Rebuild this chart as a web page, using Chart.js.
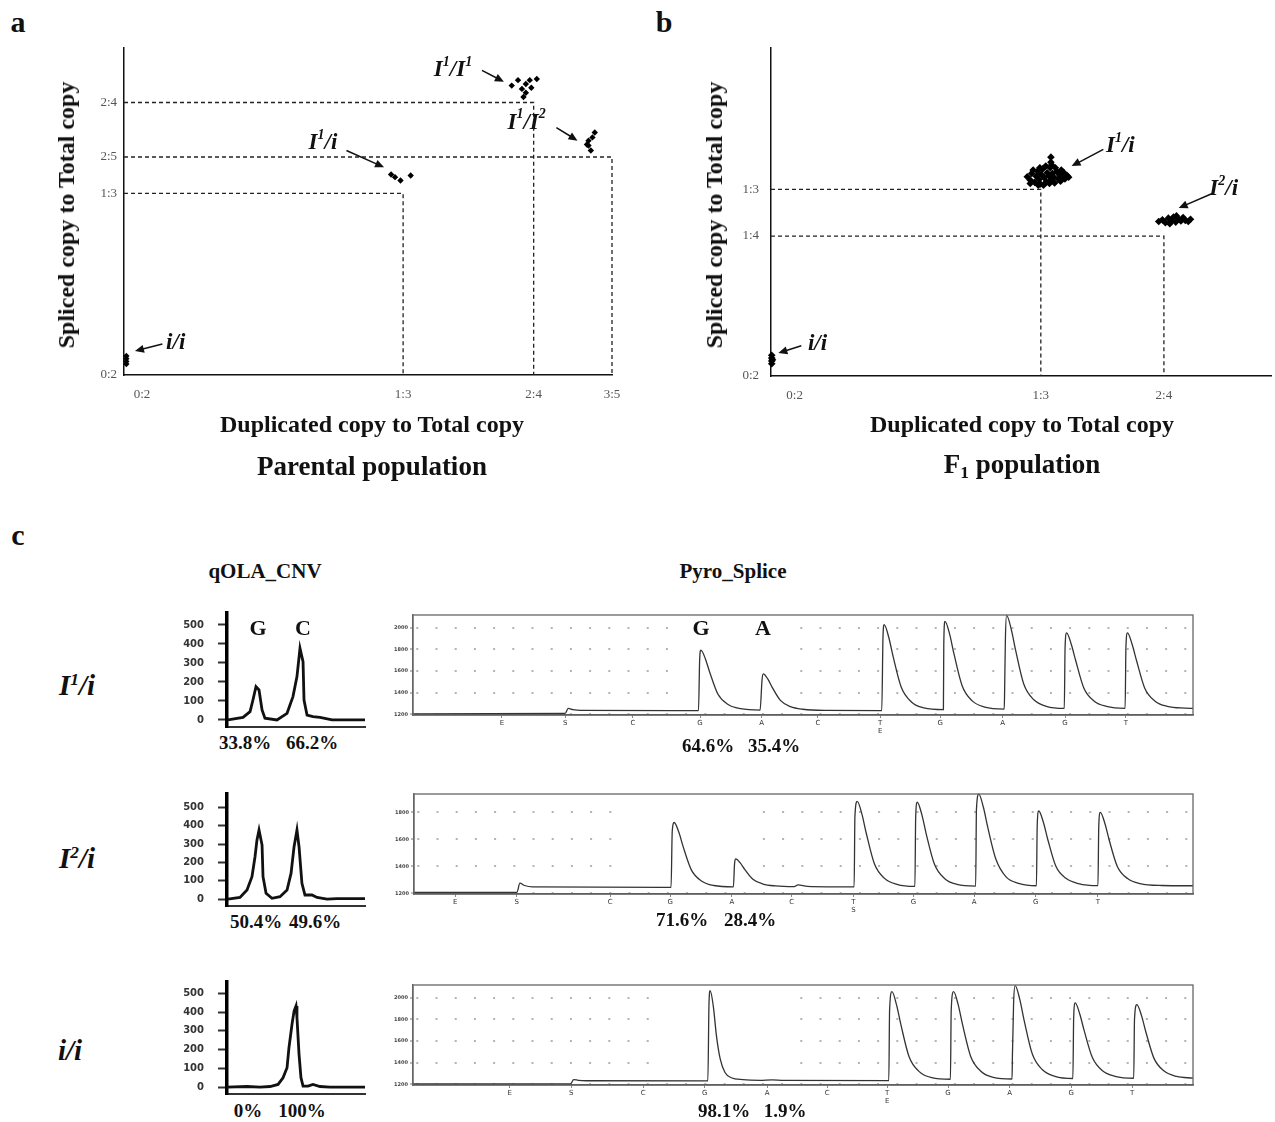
<!DOCTYPE html>
<html>
<head>
<meta charset="utf-8">
<script src="https://cdn.jsdelivr.net/npm/chart.js@4.4.0/dist/chart.umd.min.js"></script>
<style>
body { margin: 0; width: 1275px; height: 1122px; position: relative; overflow: hidden; background: #fff;
       font-family: "Liberation Serif", "Times New Roman", serif; color: #111; }
.box { position: absolute; }
.t { position: absolute; transform: translate(-50%, -50%); font-weight: bold; white-space: nowrap; line-height: 1; }
.rot { transform: translate(-50%, -50%) rotate(-90deg); }
.s { font-size: 0.6em; vertical-align: 0.55em; }
.b { font-size: 0.65em; vertical-align: -0.3em; }
</style>
</head>
<body>

<div class="t" style="left:18px;top:22px;font-size:30px">a</div>
<div class="t" style="left:664px;top:22px;font-size:30px">b</div>
<div class="t" style="left:18px;top:535px;font-size:30px">c</div>

<div class="box" style="left:60px;top:40px;width:560px;height:385px"><canvas id="parental"></canvas></div>
<div class="t rot" style="left:66px;top:215px;font-size:24px">Spliced copy to Total copy</div>
<div class="t" style="left:372px;top:424px;font-size:24px">Duplicated copy to Total copy</div>
<div class="t" style="left:372px;top:466px;font-size:27px">Parental population</div>

<div class="box" style="left:706px;top:40px;width:569px;height:385px"><canvas id="f1"></canvas></div>
<div class="t rot" style="left:714px;top:215px;font-size:24px">Spliced copy to Total copy</div>
<div class="t" style="left:1022px;top:424px;font-size:24px">Duplicated copy to Total copy</div>
<div class="t" style="left:1022px;top:466px;font-size:27px">F<span class="b">1</span> population</div>

<div class="t" style="left:265px;top:571px;font-size:21px">qOLA_CNV</div>
<div class="t" style="left:733px;top:571px;font-size:21px">Pyro_Splice</div>

<div class="t" style="left:77px;top:685px;font-size:29px"><i>I<span class="s">1</span>/i</i></div>
<div class="t" style="left:77px;top:858px;font-size:29px"><i>I<span class="s">2</span>/i</i></div>
<div class="t" style="left:70px;top:1050px;font-size:29px"><i>i/i</i></div>

<div class="box" style="left:170px;top:605px;width:200px;height:125px"><canvas id="cnv1"></canvas></div>
<div class="box" style="left:170px;top:786px;width:200px;height:123px"><canvas id="cnv2"></canvas></div>
<div class="box" style="left:170px;top:974px;width:200px;height:123px"><canvas id="cnv3"></canvas></div>

<div class="box" style="left:380px;top:607px;width:818px;height:131px"><canvas id="pyro1"></canvas></div>
<div class="box" style="left:381px;top:786px;width:817px;height:131px"><canvas id="pyro2"></canvas></div>
<div class="box" style="left:380px;top:977px;width:818px;height:131px"><canvas id="pyro3"></canvas></div>

<div class="t" style="left:258px;top:628px;font-size:22px">G</div>
<div class="t" style="left:303px;top:628px;font-size:22px">C</div>
<div class="t" style="left:701px;top:628px;font-size:22px">G</div>
<div class="t" style="left:763px;top:628px;font-size:22px">A</div>

<div class="t" style="left:245px;top:742px;font-size:19px">33.8%</div>
<div class="t" style="left:312px;top:742px;font-size:19px">66.2%</div>
<div class="t" style="left:256px;top:921px;font-size:19px">50.4%</div>
<div class="t" style="left:315px;top:921px;font-size:19px">49.6%</div>
<div class="t" style="left:248px;top:1110px;font-size:19px">0%</div>
<div class="t" style="left:302px;top:1110px;font-size:19px">100%</div>

<div class="t" style="left:708px;top:745px;font-size:19px">64.6%</div>
<div class="t" style="left:774px;top:745px;font-size:19px">35.4%</div>
<div class="t" style="left:682px;top:919px;font-size:19px">71.6%</div>
<div class="t" style="left:750px;top:919px;font-size:19px">28.4%</div>
<div class="t" style="left:724px;top:1110px;font-size:19px">98.1%</div>
<div class="t" style="left:785px;top:1110px;font-size:19px">1.9%</div>

<script>
const SERIF = '"Liberation Serif", "Times New Roman", serif';

// ---- panel a: parental population (ratios as fractions)
const parentXTicks = [0, 1 / 3, 0.5, 0.6];
const parentXLabels = ['0:2', '1:3', '2:4', '3:5'];
const parentYTicks = [0, 1 / 3, 0.4, 0.5];
const parentYLabels = ['0:2', '1:3', '2:5', '2:4'];
const parentII = [[-0.020, 0.020], [-0.020, 0.025], [-0.020, 0.030], [-0.020, 0.035]];
const parentI1i = [[0.318, 0.368], [0.330, 0.357], [0.343, 0.366], [0.323, 0.363]];
const parentI1I1 = [[0.472, 0.531], [0.480, 0.541], [0.485, 0.525], [0.490, 0.518], [0.490, 0.534],
                    [0.495, 0.541], [0.504, 0.543], [0.497, 0.527], [0.487, 0.510]];
const parentI1I2 = [[0.570, 0.430], [0.575, 0.436], [0.578, 0.445], [0.568, 0.423], [0.573, 0.412], [0.570, 0.421]];
const parentGuides = [
    [[-0.023, 0.5], [0.5, 0.5], [0.5, 0]],
    [[-0.023, 0.4], [0.6, 0.4], [0.6, 0]],
    [[-0.023, 1 / 3], [1 / 3, 1 / 3], [1 / 3, 0]]
];

// ---- panel b: F1 population
const f1XTicks = [0, 1 / 3, 0.5];
const f1XLabels = ['0:2', '1:3', '2:4'];
const f1YTicks = [0, 0.25, 1 / 3];
const f1YLabels = ['0:2', '1:4', '1:3'];
const f1II = [[-0.031, 0.022], [-0.031, 0.027], [-0.031, 0.032], [-0.031, 0.037], [-0.030, 0.029]];
const f1I1i = [[0.315, 0.356], [0.319, 0.350], [0.321, 0.362], [0.325, 0.346], [0.327, 0.357], [0.329, 0.366],
               [0.331, 0.351], [0.333, 0.343], [0.334, 0.360], [0.336, 0.370], [0.338, 0.354], [0.341, 0.347],
               [0.342, 0.363], [0.344, 0.358], [0.346, 0.372], [0.347, 0.391], [0.347, 0.382], [0.347, 0.350],
               [0.349, 0.362], [0.351, 0.355], [0.352, 0.345], [0.355, 0.366], [0.357, 0.352], [0.358, 0.360],
               [0.360, 0.348], [0.362, 0.357], [0.364, 0.364], [0.366, 0.352], [0.369, 0.358], [0.371, 0.355],
               [0.323, 0.368], [0.330, 0.341], [0.337, 0.341], [0.345, 0.344], [0.353, 0.372], [0.340, 0.375],
               [0.332, 0.372], [0.361, 0.368], [0.319, 0.344], [0.348, 0.377]];
const f1I2i = [[0.493, 0.276], [0.498, 0.279], [0.502, 0.274], [0.506, 0.282], [0.510, 0.277], [0.513, 0.284],
               [0.516, 0.275], [0.520, 0.280], [0.523, 0.277], [0.526, 0.283], [0.529, 0.278], [0.533, 0.276],
               [0.536, 0.280], [0.508, 0.272], [0.517, 0.286]];
const f1Guides = [
    [[-0.032, 1 / 3], [1 / 3, 1 / 3], [1 / 3, 0]],
    [[-0.032, 0.25], [0.5, 0.25], [0.5, 0]]
];

// ---- panel c: qOLA_CNV traces (x = position along trace, y = signal)
const cnvTicks = [0, 100, 200, 300, 400, 500];
const cnvLabels = ['0', '100', '200', '300', '400', '500'];
const cnvI1i = [[0.7, 0], [11.6, 14], [16.7, 44], [18.8, 105], [21, 175], [23.2, 158], [25.4, 53], [27.5, 9],
                [36.2, 0], [43.5, 35], [47.8, 123], [50.7, 228], [52.9, 377], [55.1, 307], [55.8, 105],
                [58, 26], [62.3, 18], [67.4, 14], [76.1, 0], [89.1, 0], [100, 0]];
const cnvI2i = [[0.7, 0], [9.4, 9], [14.5, 49], [18.1, 122], [20.3, 231], [21.7, 322], [23.2, 377], [25.4, 295],
                [26.1, 122], [28.3, 31], [32.6, 4], [38.4, 13], [43.5, 49], [46.4, 140], [48.6, 286], [50.7, 377],
                [52.2, 286], [54.3, 86], [56.5, 22], [61.6, 22], [65.2, 9], [72.5, 0], [79.7, 2], [89.1, 2], [100, 2]];
const cnvII = [[0, 0], [14.5, 3], [23.9, 0], [31.2, 3], [37, 14], [40.6, 50], [43.5, 103], [44.9, 210],
               [47.1, 335], [48.6, 406], [50, 433], [50.7, 371], [52.2, 175], [53.6, 50], [55.1, 5],
               [58.7, 5], [62.3, 14], [67.4, 3], [74.6, 0], [100, 0]];

// ---- panel c: Pyro_Splice pyrograms (x = run position, y = light units)
const pyroYTicks1 = [1200, 1400, 1600, 1800, 2000];
const pyroYTicks2 = [1200, 1400, 1600, 1800];
const pyroXTicks1 = [11.4, 19.5, 28.2, 36.8, 44.7, 51.9, 59.9, 67.6, 75.6, 83.6, 91.4];
const pyroXTicks2 = [5.3, 13.2, 25.2, 32.9, 40.8, 48.5, 56.4, 64.1, 71.9, 79.8, 87.8];
const pyroXTicks3 = [12.4, 20.3, 29.5, 37.4, 45.4, 53.1, 60.8, 68.6, 76.5, 84.4, 92.2];
const dispensation1 = ['E', 'S', 'C', 'G', 'A', 'C', ['T', 'E'], 'G', 'A', 'G', 'T'];
const dispensation2 = ['E', 'S', 'C', 'G', 'A', 'C', ['T', 'S'], 'G', 'A', 'G', 'T'];
const pyroI1i = [[0, 1205], [19.5, 1210], [19.9, 1256], [20.5, 1245], [21.5, 1238], [36.6, 1236],
    [36.75, 1700], [36.9, 1793], [37.5, 1710], [38.05, 1587], [39.1, 1386], [40.4, 1292], [42, 1253], [44.5, 1240],
    [44.75, 1520], [44.9, 1574], [45.5, 1525], [46.05, 1450], [47.1, 1330], [48.4, 1272], [50, 1248], [53, 1238], [60.1, 1236],
    [60.25, 1900], [60.4, 2028], [61.0, 1910], [61.55, 1735], [62.6, 1450], [63.9, 1315], [65.5, 1260], [68.0, 1244],
    [68.05, 1850], [68.2, 2059], [68.8, 1940], [69.35, 1760], [70.4, 1465], [71.7, 1325], [73.3, 1268], [75.8, 1250],
    [75.85, 1420], [75.95, 1900], [76.1, 2113], [76.7, 1985], [77.25, 1795], [78.3, 1480], [79.6, 1335], [81.2, 1275], [83.5, 1256],
    [83.6, 1820], [83.8, 1953], [84.4, 1845], [84.95, 1700], [86.0, 1445], [87.3, 1325], [88.9, 1275], [91.3, 1257],
    [91.4, 1820], [91.6, 1953], [92.2, 1845], [92.75, 1700], [93.8, 1445], [95.1, 1325], [96.7, 1275], [99, 1258], [100, 1256]];
const pyroI2i = [[0, 1207], [13.2, 1207], [13.6, 1275], [14.2, 1258], [15.2, 1248], [33.0, 1244],
    [33.15, 1660], [33.4, 1725], [34.0, 1652], [34.55, 1546], [35.6, 1374], [36.9, 1292], [38.5, 1258], [41.0, 1248],
    [41.15, 1420], [41.3, 1455], [41.9, 1424], [42.45, 1378], [43.5, 1304], [44.8, 1269], [46.4, 1255], [48.8, 1250],
    [49.3, 1262], [50.5, 1252], [56.5, 1248],
    [56.6, 1770], [56.9, 1882], [57.5, 1787], [58.05, 1647], [59.1, 1419], [60.4, 1311], [62, 1267], [64.3, 1252],
    [64.4, 1760], [64.6, 1875], [65.2, 1781], [65.75, 1641], [66.8, 1417], [68.1, 1310], [69.7, 1266], [72.1, 1254],
    [72.2, 1820], [72.5, 1935], [73.1, 1836], [73.65, 1690], [74.7, 1452], [76.0, 1322], [77.6, 1274], [79.9, 1256],
    [80.0, 1700], [80.2, 1810], [80.8, 1725], [81.35, 1601], [82.4, 1400], [83.7, 1311], [85.3, 1272], [87.8, 1257],
    [87.9, 1690], [88.1, 1800], [88.7, 1716], [89.25, 1593], [90.3, 1397], [91.6, 1310], [93.2, 1272], [96, 1258], [100, 1256]];
const pyroII = [[0, 1206], [20.2, 1206], [20.6, 1245], [21.2, 1238], [22.2, 1234], [37.8, 1233],
    [37.95, 1950], [38.1, 2064], [38.5, 1920], [38.9, 1650], [39.4, 1430], [40.0, 1310], [40.8, 1262], [42.3, 1244],
    [44.5, 1238], [46.0, 1243], [47.5, 1238], [61.0, 1235],
    [61.1, 1880], [61.4, 2054], [62.0, 1930], [62.55, 1750], [63.6, 1455], [64.9, 1318], [66.5, 1262], [68.9, 1248],
    [69.0, 1880], [69.3, 2054], [69.9, 1932], [70.45, 1752], [71.5, 1458], [72.8, 1322], [74.4, 1265], [76.8, 1250],
    [76.85, 1470], [77.0, 1950], [77.2, 2110], [77.8, 1980], [78.35, 1790], [79.4, 1480], [80.7, 1335], [82.3, 1275], [84.6, 1255],
    [84.7, 1810], [84.9, 1950], [85.5, 1843], [86.05, 1695], [87.1, 1447], [88.4, 1326], [90.0, 1275], [92.4, 1257],
    [92.5, 1800], [92.8, 1935], [93.4, 1833], [93.95, 1685], [95.0, 1440], [96.3, 1323], [97.9, 1274], [100, 1258]];

const pts = arr => arr.map(([x, y]) => ({x, y}));
const fixTicks = values => scale => { scale.ticks = values.map(v => ({value: v})); };
// fixed axis sizes, and no extra label padding so the plot area lands where the figure has it
const fitX = h => s => { s.height = h; s.paddingLeft = 0; s.paddingRight = 0; };
const fitY = w => s => { s.width = w; s.paddingTop = 0; s.paddingBottom = 0; };

// text with ^ marking the next character as superscript, e.g. I^1/i
function drawRich(ctx, str, cx, cy, size) {
    const parts = [];
    for (let i = 0; i < str.length; i++) {
        if (str[i] === '^') { parts.push({t: str[i + 1], sup: true}); i++; }
        else parts.push({t: str[i], sup: false});
    }
    const big = `italic bold ${size}px ${SERIF}`;
    const small = `italic bold ${Math.round(size * 0.6)}px ${SERIF}`;
    let w = 0;
    parts.forEach(p => { ctx.font = p.sup ? small : big; p.w = ctx.measureText(p.t).width; w += p.w; });
    let x = cx - w / 2;
    ctx.textBaseline = 'middle';
    ctx.textAlign = 'left';
    ctx.fillStyle = '#111';
    parts.forEach(p => {
        ctx.font = p.sup ? small : big;
        ctx.fillText(p.t, x, p.sup ? cy - size * 0.35 : cy);
        x += p.w;
    });
}

const notesPlugin = {
    id: 'notes',
    afterDatasetsDraw(chart, args, opts) {
        const {ctx, scales: {x, y}} = chart;
        (opts.items || []).forEach(n => {
            const x1 = x.getPixelForValue(n.from[0]), y1 = y.getPixelForValue(n.from[1]);
            const x2 = x.getPixelForValue(n.to[0]), y2 = y.getPixelForValue(n.to[1]);
            const a = Math.atan2(y2 - y1, x2 - x1);
            ctx.save();
            ctx.strokeStyle = '#111';
            ctx.fillStyle = '#111';
            ctx.lineWidth = 1.5;
            ctx.beginPath();
            ctx.moveTo(x1, y1);
            ctx.lineTo(x2 - 6 * Math.cos(a), y2 - 6 * Math.sin(a));
            ctx.stroke();
            ctx.beginPath();
            ctx.moveTo(x2, y2);
            ctx.lineTo(x2 - 9 * Math.cos(a) + 4 * Math.sin(a), y2 - 9 * Math.sin(a) - 4 * Math.cos(a));
            ctx.lineTo(x2 - 9 * Math.cos(a) - 4 * Math.sin(a), y2 - 9 * Math.sin(a) + 4 * Math.cos(a));
            ctx.closePath();
            ctx.fill();
            drawRich(ctx, n.text, x.getPixelForValue(n.at[0]), y.getPixelForValue(n.at[1]), 23);
            ctx.restore();
        });
    }
};

function scatterChart(id, cfg) {
    const guideSets = cfg.guides.map(g => ({
        data: pts(g), showLine: true, pointRadius: 0, borderColor: '#222', borderWidth: 1.3,
        borderDash: [4, 3], clip: false
    }));
    const pointSets = cfg.groups.map(g => ({
        data: pts(g), pointStyle: 'rectRot', pointRadius: cfg.dot, backgroundColor: '#000',
        borderColor: '#000', borderWidth: 0, clip: false
    }));
    new Chart(document.getElementById(id), {
        type: 'scatter',
        data: {datasets: guideSets.concat(pointSets)},
        options: {
            animation: false,
            responsive: true,
            maintainAspectRatio: false,
            layout: {padding: {top: 8, right: cfg.padRight, left: 0, bottom: 0}},
            plugins: {legend: {display: false}, tooltip: {enabled: false}, notes: {items: cfg.notes}},
            scales: {
                x: {
                    type: 'linear', min: cfg.xMin, max: cfg.xMax,
                    afterBuildTicks: fixTicks(cfg.xTicks),
                    afterFit: fitX(cfg.xAxisH),
                    grid: {drawOnChartArea: false, drawTicks: false},
                    border: {color: '#111', width: 1.5},
                    ticks: {padding: 12, color: '#555', autoSkip: false, maxRotation: 0,
                            font: {family: SERIF, size: 13}, callback: (v, i) => cfg.xLabels[i]}
                },
                y: {
                    type: 'linear', min: 0, max: cfg.yMax,
                    afterBuildTicks: fixTicks(cfg.yTicks),
                    afterFit: fitY(cfg.yAxisW),
                    grid: {drawOnChartArea: false, drawTicks: false},
                    border: {color: '#111', width: 1.5},
                    ticks: {padding: cfg.yPad, color: '#555', autoSkip: false,
                            font: {family: SERIF, size: 13}, callback: (v, i) => cfg.yLabels[i]}
                }
            }
        },
        plugins: [notesPlugin]
    });
}

scatterChart('parental', {
    xMin: -0.023, xMax: 0.6, yMax: 0.6, padRight: 8, xAxisH: 50, yAxisW: 64, yPad: 7, dot: 3.2,
    xTicks: parentXTicks, xLabels: parentXLabels, yTicks: parentYTicks, yLabels: parentYLabels,
    guides: parentGuides,
    groups: [parentII, parentI1i, parentI1I1, parentI1I2],
    notes: [
        {text: 'I^1/I^1', at: [0.397, 0.559], from: [0.434, 0.559], to: [0.462, 0.538]},
        {text: 'I^1/I^2', at: [0.491, 0.463], from: [0.529, 0.454], to: [0.556, 0.430]},
        {text: 'I^1/i', at: [0.231, 0.425], from: [0.261, 0.412], to: [0.309, 0.381]},
        {text: 'i/i', at: [0.043, 0.059], from: [0.026, 0.057], to: [-0.009, 0.044]}
    ]
});

scatterChart('f1', {
    xMin: -0.032, xMax: 0.645, yMax: 0.586, padRight: 0, xAxisH: 49, yAxisW: 65, yPad: 12, dot: 3.8,
    xTicks: f1XTicks, xLabels: f1XLabels, yTicks: f1YTicks, yLabels: f1YLabels,
    guides: f1Guides,
    groups: [f1II, f1I1i, f1I2i],
    notes: [
        {text: 'I^1/i', at: [0.441, 0.411], from: [0.418, 0.405], to: [0.375, 0.375]},
        {text: 'I^2/i', at: [0.581, 0.334], from: [0.567, 0.327], to: [0.520, 0.300]},
        {text: 'i/i', at: [0.031, 0.057], from: [0.009, 0.054], to: [-0.022, 0.041]}
    ]
});

function cnvChart(id, trace, yMin, yMax) {
    new Chart(document.getElementById(id), {
        type: 'scatter',
        data: {datasets: [{data: pts(trace), showLine: true, pointRadius: 0, borderColor: '#111',
                           borderWidth: 2.8, tension: 0, clip: false}]},
        options: {
            animation: false, responsive: true, maintainAspectRatio: false,
            layout: {padding: {top: 8, right: 5, left: 0, bottom: 0}},
            plugins: {legend: {display: false}, tooltip: {enabled: false}},
            scales: {
                x: {
                    type: 'linear', min: 0, max: 100,
                    afterFit: fitX(3),
                    ticks: {display: false},
                    grid: {drawOnChartArea: false, drawTicks: false},
                    border: {color: '#333', width: 2}
                },
                y: {
                    type: 'linear', min: yMin, max: yMax,
                    afterBuildTicks: fixTicks(cnvTicks),
                    afterFit: fitY(57),
                    grid: {drawOnChartArea: false, drawTicks: true, tickLength: 9, tickWidth: 2, tickColor: '#333'},
                    border: {color: '#000', width: 3.5},
                    ticks: {padding: 14, color: '#333', autoSkip: false,
                            font: {family: '"DejaVu Sans", sans-serif', size: 10, weight: 'bold'},
                            callback: (v, i) => cnvLabels[i]}
                }
            }
        }
    });
}

cnvChart('cnv1', cnvI1i, -37, 563);
cnvChart('cnv2', cnvI2i, -38, 574);
cnvChart('cnv3', cnvII, -37, 561);

const pyroFrame = {
    id: 'pyroFrame',
    beforeDatasetsDraw(chart, args, opts) {
        const {ctx, chartArea: a, scales: {x}} = chart;
        ctx.save();
        ctx.fillStyle = '#fff';
        const g0 = x.getPixelForValue(opts.gap[0]), g1 = x.getPixelForValue(opts.gap[1]);
        ctx.fillRect(g0, a.top + 2, g1 - g0, a.bottom - a.top - 6);
        ctx.restore();
    },
    afterDatasetsDraw(chart) {
        const {ctx, chartArea: a} = chart;
        ctx.save();
        ctx.strokeStyle = '#666';
        ctx.lineWidth = 1.3;
        ctx.strokeRect(a.left, a.top, a.right - a.left, a.bottom - a.top);
        ctx.restore();
    }
};

function pyroChart(id, trace, yTicks, yMax, xTicks, xLabels, gap) {
    new Chart(document.getElementById(id), {
        type: 'scatter',
        data: {datasets: [{data: pts(trace), showLine: true, pointRadius: 0, borderColor: '#333',
                           borderWidth: 1.3, tension: 0.3, cubicInterpolationMode: 'monotone', clip: false}]},
        options: {
            animation: false, responsive: true, maintainAspectRatio: false,
            layout: {padding: {top: 8, right: 5, left: 0, bottom: 0}},
            plugins: {legend: {display: false}, tooltip: {enabled: false}, pyroFrame: {gap}},
            scales: {
                x: {
                    type: 'linear', min: 0, max: 100,
                    afterBuildTicks: fixTicks(xTicks),
                    afterFit: fitX(23),
                    grid: {drawOnChartArea: false, drawTicks: true, tickLength: 3, tickColor: '#888'},
                    border: {color: '#555', width: 1.5},
                    ticks: {padding: 1, color: '#333', autoSkip: false, maxRotation: 0,
                            font: {family: '"DejaVu Sans", sans-serif', size: 7},
                            callback: (v, i) => xLabels[i]}
                },
                y: {
                    type: 'linear', min: 1195, max: yMax,
                    afterBuildTicks: fixTicks(yTicks),
                    afterFit: fitY(33),
                    grid: {drawOnChartArea: true, drawTicks: true, tickLength: 3, lineWidth: 2,
                           color: '#b3b3b3', tickColor: '#777', tickWidth: 1},
                    border: {color: '#666', width: 1.3, dash: [2, 17.2], dashOffset: -3},
                    ticks: {padding: 2, color: '#444', autoSkip: false,
                            font: {family: '"DejaVu Sans", sans-serif', size: 5, weight: 'bold'},
                            callback: v => String(v)}
                }
            }
        },
        plugins: [pyroFrame]
    });
}

pyroChart('pyro1', pyroI1i, pyroYTicks1, 2117, pyroXTicks1, dispensation1, [32.7, 49]);
pyroChart('pyro2', pyroI2i, pyroYTicks2, 1936, pyroXTicks2, dispensation2, [27.3, 44.5]);
pyroChart('pyro3', pyroII, pyroYTicks1, 2115, pyroXTicks3, dispensation1, [32.3, 49.4]);
</script>
</body>
</html>
